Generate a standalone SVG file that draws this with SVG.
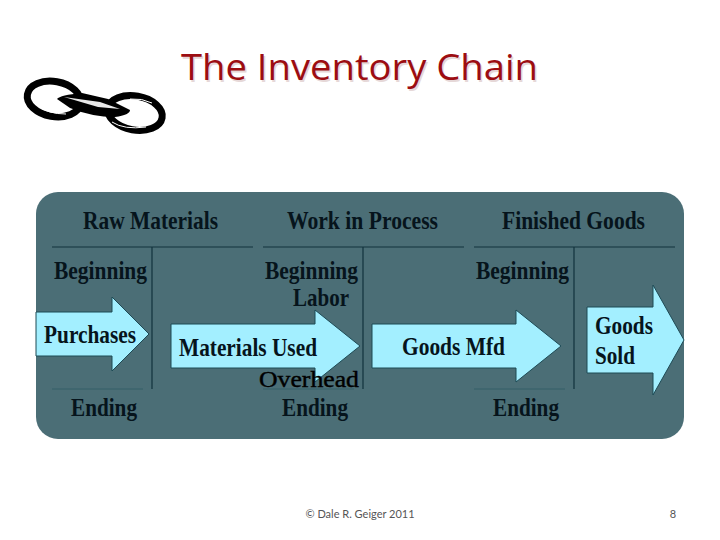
<svg xmlns="http://www.w3.org/2000/svg" width="720" height="540" viewBox="0 0 720 540">
<style>
.t{font-family:"Liberation Serif",serif;font-weight:bold;font-size:26px;fill:#06141c}
.ln{stroke:#12333d;stroke-width:1.2;fill:none}
.fl{stroke:#2f5a66;stroke-width:.8;fill:none}
.ar{fill:#a3efff;stroke:#1d4a55;stroke-width:1}
.ft{font-family:Lato,"Liberation Sans",sans-serif;font-size:11px;fill:#555}
.ti{font-family:"Open Sans","Liberation Sans",sans-serif;font-size:36px}
</style>
<rect width="720" height="540" fill="#fff"/>
<g id="title"><text class="ti" x="182.500" y="81.500" fill="#e6d8d8" textLength="357" lengthAdjust="spacingAndGlyphs">The Inventory Chain</text><text class="ti" x="181" y="80" fill="#9c0d12" textLength="357" lengthAdjust="spacingAndGlyphs">The Inventory Chain</text></g>
<g id="chain-icon" fill="none">
<ellipse cx="54" cy="99" rx="27" ry="17.500" transform="rotate(10 54 99)" stroke="#000" stroke-width="7"/>
<ellipse cx="135" cy="113" rx="27.500" ry="17" transform="rotate(10 135 113)" stroke="#000" stroke-width="7"/>
<path d="M57 99Q60 95 82 93L108 99L130 110Q130 115 115 117Q92 117 70 108Z" fill="#000"/>
<path d="M64 97L100 102L120 109L98 107Z" fill="#e8e8e8"/>
<path d="M38 106Q48 114 66 114M112 122Q124 130 146 127M130 99Q142 98 152 103" stroke="#fff" stroke-width="1"/>
</g>
<rect id="panel" x="36" y="192" width="648" height="247" rx="22" fill="#4b6e76"/>
<g id="connectors">
<path class="ln" d="M52 247H253M152 247V389M263 247H464M363 247V389M474 247H675M574 247V389"/>
<path class="fl" d="M52 389H143M263 389H354M474 389H565"/>
</g>
<g id="raw-materials">
<text class="t" x="83" y="229" textLength="135" lengthAdjust="spacingAndGlyphs">Raw Materials</text>
<text class="t" x="54" y="279" textLength="93" lengthAdjust="spacingAndGlyphs">Beginning</text>
<text class="t" x="71" y="416" textLength="66" lengthAdjust="spacingAndGlyphs">Ending</text>
</g>
<g id="work-in-process">
<text class="t" x="287" y="229" textLength="151" lengthAdjust="spacingAndGlyphs">Work in Process</text>
<text class="t" x="265" y="279" textLength="93" lengthAdjust="spacingAndGlyphs">Beginning</text>
<text class="t" x="293" y="306" textLength="56" lengthAdjust="spacingAndGlyphs">Labor</text>
<text class="t" x="282" y="416" textLength="66" lengthAdjust="spacingAndGlyphs">Ending</text>
</g>
<g id="finished-goods">
<text class="t" x="502" y="229" textLength="143" lengthAdjust="spacingAndGlyphs">Finished Goods</text>
<text class="t" x="476" y="279" textLength="93" lengthAdjust="spacingAndGlyphs">Beginning</text>
<text class="t" x="493" y="416" textLength="66" lengthAdjust="spacingAndGlyphs">Ending</text>
</g>
<g id="purchases"><path class="ar" d="M36 312H112V297L149 334L112 371V356H36Z"/><text class="t" x="44" y="343" textLength="92" lengthAdjust="spacingAndGlyphs">Purchases</text></g>
<g id="materials-used"><path class="ar" d="M171 324H315V310L360 346L315 382V368H171Z"/><text class="t" x="179" y="356" textLength="138" lengthAdjust="spacingAndGlyphs">Materials Used</text></g>
<g id="overhead"><text x="259" y="387" font-family="'Liberation Serif',serif" font-size="23" fill="#000" stroke="#000" stroke-width=".4" textLength="100" lengthAdjust="spacingAndGlyphs">Overhead</text></g>
<g id="goods-mfd"><path class="ar" d="M372 324H516V310L561 346L516 382V368H372Z"/><text class="t" x="402" y="355" textLength="103" lengthAdjust="spacingAndGlyphs">Goods Mfd</text></g>
<g id="goods-sold"><path class="ar" d="M587 307H653V285L684 340L653 395V373H587Z"/><text class="t" x="595" y="334" textLength="58" lengthAdjust="spacingAndGlyphs">Goods</text><text class="t" x="595" y="364" textLength="40" lengthAdjust="spacingAndGlyphs">Sold</text></g>
<g id="footer"><text class="ft" x="360" y="518" text-anchor="middle">© Dale R. Geiger 2011</text><text class="ft" x="673" y="518" text-anchor="middle">8</text></g>
</svg>
